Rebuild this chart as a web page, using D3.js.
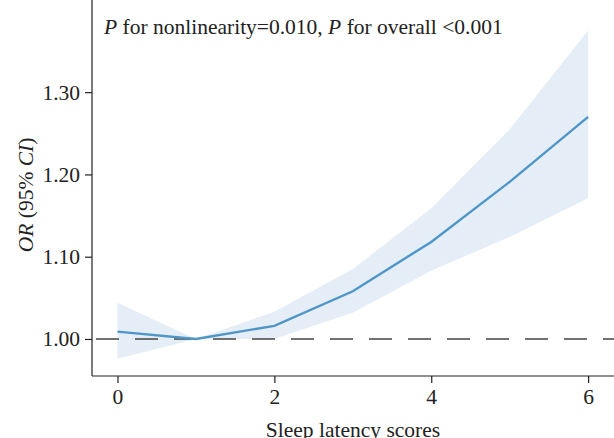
<!DOCTYPE html>
<html>
<head>
<meta charset="utf-8">
<script src="https://cdn.jsdelivr.net/npm/d3@7"></script>
<style>
  body { margin: 0; background: #fff; }
  svg { display: block; font-family: "Liberation Serif", "Times New Roman", serif; }
</style>
</head>
<body>
<div id="chart"></div>
<script>
// values
const scores = [0, 1, 2, 3, 4, 5, 6];
const orValues = [1.009, 1.000, 1.016, 1.058, 1.118, 1.191, 1.270];
const upperCI = [1.044, 1.000, 1.033, 1.085, 1.159, 1.255, 1.375];
const lowerCI = [0.976, 1.000, 1.000, 1.032, 1.083, 1.124, 1.171];
const xTicks = [0, 2, 4, 6];
const yTicks = [1.00, 1.10, 1.20, 1.30];

const width = 614;
const height = 438;
const plot = { left: 92, right: 614, top: 0, bottom: 376 };
const fontSize = '21.5px';

const svg = d3.select('#chart').append('svg')
    .attr('width', width)
    .attr('height', height);

const xScale = d3.scaleLinear()
    .domain([-0.325, 6.33])
    .range([plot.left, plot.right]);

const yScale = d3.scaleLinear()
    .domain([0.955, 1.412])
    .range([plot.bottom, plot.top]);

const rows = scores.map((s, i) => ({ x: s, y: orValues[i], lo: lowerCI[i], hi: upperCI[i] }));

// confidence band
svg.append('path')
    .datum(rows)
    .attr('fill', '#e5eef7')
    .attr('d', d3.area()
        .x(d => xScale(d.x))
        .y0(d => yScale(d.lo))
        .y1(d => yScale(d.hi)));

// reference line at OR = 1
svg.append('line')
    .attr('x1', plot.left)
    .attr('x2', plot.right)
    .attr('y1', yScale(1))
    .attr('y2', yScale(1))
    .attr('stroke', '#444')
    .attr('stroke-width', 1.5)
    .attr('stroke-dasharray', '23,16')
    .attr('stroke-dashoffset', -4);

// OR curve
svg.append('path')
    .datum(rows)
    .attr('fill', 'none')
    .attr('stroke', '#4f96c8')
    .attr('stroke-width', 2.4)
    .attr('d', d3.line()
        .x(d => xScale(d.x))
        .y(d => yScale(d.y)));

// axes
const xAxis = svg.append('g')
    .attr('transform', `translate(0, ${plot.bottom})`)
    .call(d3.axisBottom(xScale).tickValues(xTicks).tickSize(7).tickPadding(6).tickFormat(d3.format('d')));

const yAxis = svg.append('g')
    .attr('transform', `translate(${plot.left}, 0)`)
    .call(d3.axisLeft(yScale).tickValues(yTicks).tickSize(7).tickPadding(5).tickFormat(d3.format('.2f')));

[xAxis, yAxis].forEach(g => {
    g.select('.domain').attr('stroke', '#222').attr('stroke-width', 1.2);
    g.selectAll('.tick line').attr('stroke', '#222').attr('stroke-width', 1.2);
    g.selectAll('.tick text')
        .attr('fill', '#222')
        .style('font-family', '"Liberation Serif", serif')
        .style('font-size', fontSize);
});
xAxis.select('.domain').attr('d', `M${plot.left},0H${plot.right}`);
yAxis.select('.domain').attr('d', `M0,${plot.bottom}V${plot.top}`);

// axis titles (the reference crops the bottom of this one)
svg.append('text')
    .attr('x', (plot.left + plot.right) / 2)
    .attr('y', 437)
    .attr('text-anchor', 'middle')
    .attr('fill', '#222')
    .style('font-size', fontSize)
    .text('Sleep latency scores');

const yTitle = svg.append('text')
    .attr('transform', `translate(33, ${yScale(1.175)}) rotate(-90)`)
    .attr('text-anchor', 'middle')
    .attr('fill', '#222')
    .style('font-size', fontSize);
yTitle.append('tspan').style('font-style', 'italic').text('OR');
yTitle.append('tspan').text(' (95% ');
yTitle.append('tspan').style('font-style', 'italic').text('CI');
yTitle.append('tspan').text(')');

// p-value annotation
const note = svg.append('text')
    .attr('x', 104)
    .attr('y', 34)
    .attr('fill', '#222')
    .style('font-size', fontSize);
note.append('tspan').style('font-style', 'italic').text('P');
note.append('tspan').text(' for nonlinearity=0.010, ');
note.append('tspan').style('font-style', 'italic').text('P');
note.append('tspan').text(' for overall <0.001');
</script>
</body>
</html>
